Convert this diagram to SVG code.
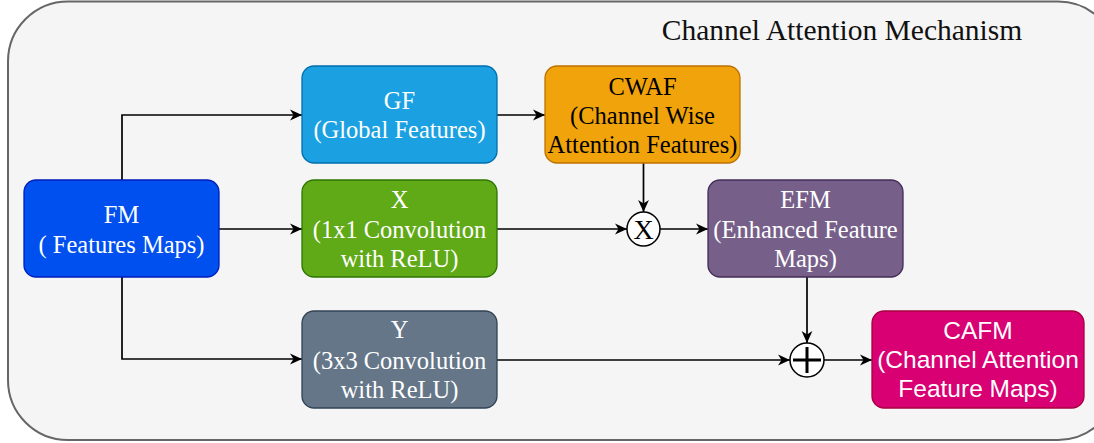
<svg xmlns="http://www.w3.org/2000/svg" width="1094" height="443" viewBox="0 0 1094 443">
  <style>
    .box { stroke-width: 1.3; }
    .serif { font-family: "Liberation Serif", "Times New Roman", serif; font-size: 24.5px; text-anchor: middle; }
    .sans { font-family: "Liberation Sans", Arial, sans-serif; font-size: 24.5px; text-anchor: middle; }
    .white { fill: #ffffff; }
    .dark { fill: #000000; }
    .edge { fill: none; stroke: #000000; stroke-width: 1.7; }
  </style>
  <defs>
    <marker id="arrow" markerUnits="userSpaceOnUse" markerWidth="14" markerHeight="12" refX="13" refY="6" orient="auto">
      <path d="M1,0.6 L13,6 L1,11.4 L4.5,6 Z" fill="#000000"/>
    </marker>
  </defs>

  <!-- container -->
  <g id="container">
    <rect x="8" y="1.5" width="1110" height="438.5" rx="60" ry="60" fill="#f5f5f5" stroke="#666666" stroke-width="2"/>
    <text x="842" y="40" font-family="'Liberation Serif', 'Times New Roman', serif" font-size="29.5px" text-anchor="middle" fill="#111111">Channel Attention Mechanism</text>
  </g>

  <!-- connectors -->
  <g id="connectors">
    <path class="edge" d="M122,180 V115 H302" marker-end="url(#arrow)"/>
    <path class="edge" d="M219,229 H302" marker-end="url(#arrow)"/>
    <path class="edge" d="M122,277 V359 H302" marker-end="url(#arrow)"/>
    <path class="edge" d="M497,115 H545" marker-end="url(#arrow)"/>
    <path class="edge" d="M643.5,163 V212" marker-end="url(#arrow)"/>
    <path class="edge" d="M497,229 H627" marker-end="url(#arrow)"/>
    <path class="edge" d="M660,229 H708" marker-end="url(#arrow)"/>
    <path class="edge" d="M807,277 V343" marker-end="url(#arrow)"/>
    <path class="edge" d="M497,360 H790" marker-end="url(#arrow)"/>
    <path class="edge" d="M824,360 H872" marker-end="url(#arrow)"/>
  </g>

  <!-- nodes -->
  <g id="node-fm">
    <rect class="box" x="24" y="180" width="195" height="97" rx="12" fill="#0050ef" stroke="#001dbc"/>
    <text class="serif white" x="121.5" y="223">FM</text>
    <text class="serif white" x="121.5" y="252.5">( Features Maps)</text>
  </g>

  <g id="node-gf">
    <rect class="box" x="302" y="66" width="195" height="97" rx="12" fill="#1ba1e2" stroke="#006eaf"/>
    <text class="serif white" x="399.5" y="108.5">GF</text>
    <text class="serif white" x="399.5" y="138">(Global Features)</text>
  </g>

  <g id="node-x">
    <rect class="box" x="302" y="180" width="195" height="97" rx="12" fill="#60a917" stroke="#2d7600"/>
    <text class="serif white" x="399.5" y="208">X</text>
    <text class="serif white" x="399.5" y="237.5">(1x1 Convolution</text>
    <text class="serif white" x="399.5" y="267">with ReLU)</text>
  </g>

  <g id="node-y">
    <rect class="box" x="302" y="311" width="195" height="97" rx="12" fill="#647687" stroke="#314354"/>
    <text class="serif white" x="399.5" y="338">Y</text>
    <text class="serif white" x="399.5" y="368.5">(3x3 Convolution</text>
    <text class="serif white" x="399.5" y="398">with ReLU)</text>
  </g>

  <g id="node-cwaf">
    <rect class="box" x="545" y="66" width="195" height="97" rx="12" fill="#f0a30a" stroke="#bd7000"/>
    <text class="serif dark" x="642.5" y="94.5">CWAF</text>
    <text class="serif dark" x="642.5" y="124">(Channel Wise</text>
    <text class="serif dark" x="642.5" y="153">Attention Features)</text>
  </g>

  <g id="node-mul">
    <ellipse cx="643.5" cy="229" rx="16.5" ry="17" fill="#ffffff" stroke="#000000" stroke-width="1.5"/>
    <text x="643.5" y="239" font-family="'Liberation Serif', 'Times New Roman', serif" font-size="28px" text-anchor="middle" fill="#000000">X</text>
  </g>

  <g id="node-efm">
    <rect class="box" x="708" y="180" width="195" height="97" rx="12" fill="#76608a" stroke="#432d57"/>
    <text class="serif white" x="805.5" y="208">EFM</text>
    <text class="serif white" x="805.5" y="237.5">(Enhanced Feature</text>
    <text class="serif white" x="805.5" y="267">Maps)</text>
  </g>

  <g id="node-add">
    <ellipse cx="807" cy="360" rx="17" ry="17" fill="#ffffff" stroke="#000000" stroke-width="1.5"/>
    <path d="M807,347 V373 M793,360 H821" stroke="#000000" stroke-width="3" fill="none"/>
  </g>

  <g id="node-cafm">
    <rect class="box" x="872" y="311" width="212" height="97" rx="12" fill="#d80073" stroke="#a50040"/>
    <text class="sans white" x="978" y="339">CAFM</text>
    <text class="sans white" x="978" y="368">(Channel Attention</text>
    <text class="sans white" x="978" y="397">Feature Maps)</text>
  </g>
</svg>
